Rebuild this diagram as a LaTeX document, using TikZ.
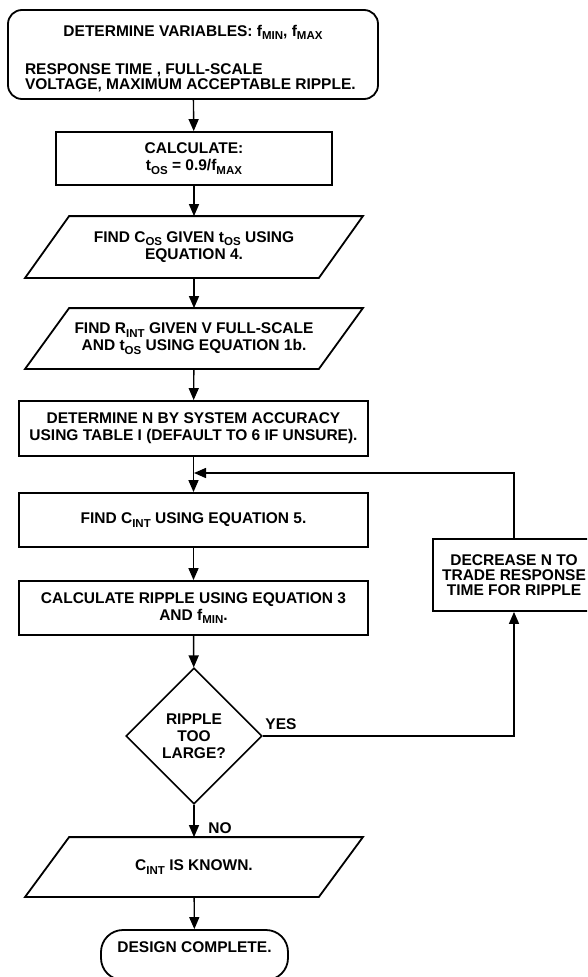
\documentclass[tikz,border=0pt]{standalone}
\usepackage{fontspec}
\setmainfont{Liberation Sans}
\usetikzlibrary{shapes.geometric,arrows.meta}
\newcommand{\lo}[1]{\raisebox{-3.5pt}{\fontsize{11.5}{11.5}\selectfont #1}}
\begin{document}
\begin{tikzpicture}[x=1pt,y=-1pt,
  box/.style={draw, line width=1.8pt, align=center, inner sep=0pt,
    font=\bfseries\fontsize{15.5}{17}\selectfont},
  para/.style={box, draw=none, minimum width=292pt, minimum height=60pt},
  arr/.style={line width=1.4pt, -{Triangle[length=12pt,width=10pt]}},
  lab/.style={inner sep=0pt, font=\bfseries\fontsize{15.5}{17}\selectfont}]
\useasboundingbox (0,0) rectangle (587,977);
\clip (0,0) rectangle (587,977);

\node[box, rounded corners=14pt, minimum width=370pt, minimum height=89pt,
  font=\bfseries\fontsize{15.5}{14.5}\selectfont] (top) at (193,54.5)
  {\rule{0pt}{19pt}\makebox[336pt]{DETERMINE VARIABLES: f\lo{MIN}, f\lo{MAX}}\\[24pt]
   \makebox[336pt][l]{RESPONSE TIME , FULL-SCALE}\\
   \makebox[336pt][l]{VOLTAGE, MAXIMUM ACCEPTABLE RIPPLE.}};
\node[box, minimum width=276pt, minimum height=53pt] (calc) at (194,158.5)
  {CALCULATE:\\ t\lo{OS} = 0.9/f\lo{MAX}};
\node[para] (p1) at (194,247)
  {FIND C\lo{OS} GIVEN t\lo{OS} USING\\ EQUATION 4.};
\node[para, minimum height=59pt] (p2) at (194,338.5)
  {FIND R\lo{INT} GIVEN V FULL-SCALE\\ AND t\lo{OS} USING EQUATION 1b.};
\node[box, minimum width=349pt, minimum height=55pt] (detn) at (193.5,428.5)
  {DETERMINE N BY SYSTEM ACCURACY\\ USING TABLE I (DEFAULT TO 6 IF UNSURE).};
\node[box, minimum width=349pt, minimum height=54pt] (cint) at (193.5,520)
  {FIND C\lo{INT} USING EQUATION 5.};
\node[box, minimum width=349pt, minimum height=54pt] (rip) at (193.5,608)
  {CALCULATE RIPPLE USING EQUATION 3\\ AND f\lo{MIN}.};
\node[box, diamond, aspect=1, line width=1.6pt, minimum width=136pt, minimum height=136pt] (dia) at (194,736)
  {RIPPLE\\ TOO\\ LARGE?};
\node[box, minimum width=162pt, minimum height=72pt, font=\bfseries\fontsize{15.5}{15}\selectfont] (dec) at (514,575)
  {DECREASE N TO\\ TRADE RESPONSE\\ TIME FOR RIPPLE};
\node[para, minimum height=58pt] (kn) at (194,867) {C\lo{INT} IS KNOWN.};
\node[box, rounded corners=22pt, minimum width=187pt, minimum height=50pt, text depth=15pt] (end) at (194.5,955)
  {DESIGN COMPLETE.};

\foreach \n in {p1,p2,kn}
  \draw[line width=1.8pt] ([xshift=-22pt]\n.south west) -- ([xshift=22pt]\n.north west)
    -- ([xshift=22pt]\n.north east) -- ([xshift=-22pt]\n.south east) -- cycle;

\coordinate (j) at (194,473);
\draw[arr] (top) -- (calc);
\draw[arr] (calc) -- (p1);
\draw[arr] (p1) -- (p2);
\draw[arr] (p2) -- (detn);
\draw[arr] (detn) -- (cint);
\draw[arr] (cint) -- (rip);
\draw[arr] (rip) -- (dia);
\draw[arr] (dia) -- (kn);
\draw[arr] (kn) -- (end);
\draw[arr] (dec.north) |- (j);
\draw[arr] (dia.east) -| (dec.south);
\node[lab] (yes) at (281,724) {YES};
\node[lab] (no) at (220,828) {NO};
\end{tikzpicture}
\end{document}
